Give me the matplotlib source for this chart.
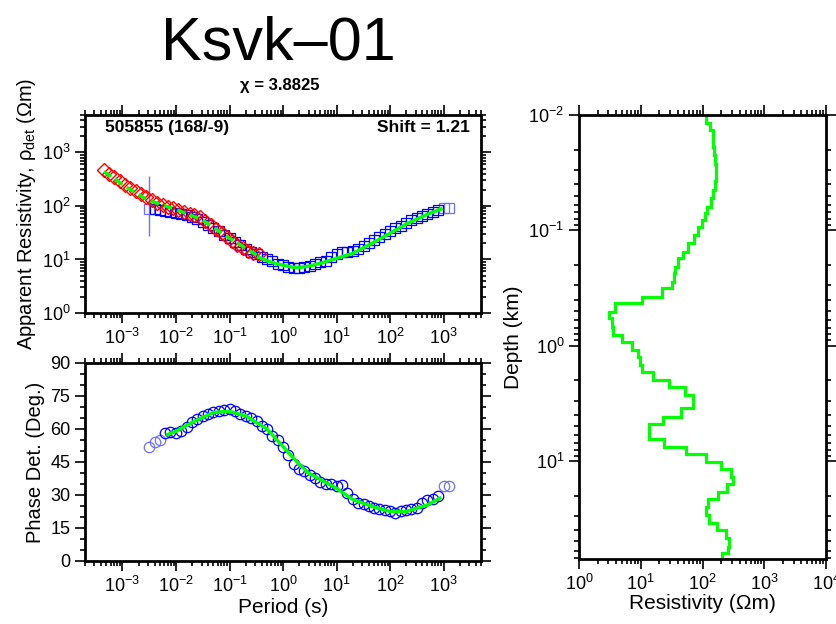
import numpy as np
import matplotlib.pyplot as plt
from matplotlib.ticker import LogLocator, MultipleLocator, NullFormatter

plt.rcParams['font.family'] = ['Liberation Sans', 'DejaVu Sans']
plt.rcParams['mathtext.fontset'] = 'custom'
plt.rcParams['mathtext.rm'] = 'Liberation Sans'
plt.rcParams['mathtext.it'] = 'Liberation Sans:italic'
plt.rcParams['mathtext.bf'] = 'Liberation Sans:bold'

# red diamonds (first polarisation), apparent resistivity
red_period = [4.5e-4, 5.6e-4, 7.1e-4, 8.9e-4, 1.1e-3, 1.4e-3, 1.8e-3, 2.2e-3, 2.8e-3, 3.5e-3,
              4.5e-3, 5.6e-3, 7.1e-3, 8.9e-3, 0.011, 0.014, 0.018, 0.022, 0.028, 0.035,
              0.045, 0.056, 0.071, 0.089, 0.11, 0.14, 0.18, 0.22, 0.28, 0.35]
red_rho = [470, 400, 340, 290, 250, 215, 190, 165, 145, 128,
           115, 105, 97, 90, 84, 78, 72, 69, 62, 52,
           44, 37, 31, 26, 22, 19, 16.5, 14.5, 13, 12.5]

# blue squares / circles (determinant), period in s
det_period = [3.2e-3, 4.0e-3, 5.0e-3, 6.3e-3, 7.9e-3, 0.010, 0.0126, 0.0158, 0.020, 0.025,
              0.032, 0.040, 0.050, 0.063, 0.079, 0.10, 0.126, 0.158, 0.20, 0.25,
              0.32, 0.40, 0.50, 0.63, 0.79, 1.0, 1.26, 1.58, 2.0, 2.5,
              3.2, 4.0, 5.0, 6.3, 7.9, 10, 12.6, 15.8, 20, 25,
              32, 40, 50, 63, 79, 100, 126, 158, 200, 250,
              316, 400, 500, 630, 790, 1000, 1260]
det_rho = [88, 86, 84, 82, 78, 75, 72, 68, 63, 57,
           51, 45, 39, 34, 29, 25, 21, 18.5, 16, 14,
           12.5, 11, 10, 9.2, 8.4, 7.8, 7.3, 7.0, 7.0, 7.2,
           7.6, 8.2, 8.8, 9.5, 11, 12.5, 13.5, 14, 14.5, 15.5,
           17.5, 20, 23, 26, 30, 34, 38, 43, 48, 54,
           60, 66, 72, 78, 84, 90, 90]
det_phase = [52, 54, 55, 58, 58.5, 58, 59, 61, 63, 64.5,
             66, 67, 67.5, 68, 68.5, 69, 68, 67, 66, 65,
             63.5, 61.5, 60, 57, 55, 52, 48, 44, 42, 41,
             39, 37.5, 36, 35, 35, 34, 34.5, 31, 28, 26.5,
             26, 25, 24, 23.5, 23, 22.5, 22, 22.5, 23, 23.5,
             24, 26.5, 27.5, 28, 29.5, 34, 34]
rho_used = [0] + [1] * 54 + [0, 0]
phase_used = [0, 0, 0] + [1] * 52 + [0, 0]

# model responses
fit_red_period = [4.5e-4, 1e-3, 3e-3, 0.01, 0.03, 0.1, 0.35]
fit_red_rho = [440, 250, 128, 86, 56, 25, 11.5]
fit_period = [0.35, 0.5, 0.7, 1.0, 1.5, 2.0, 3.0, 5.0, 10, 20, 50, 100, 200, 500, 900]
fit_rho = [11, 9.5, 8.5, 7.8, 7.2, 7.1, 7.5, 8.5, 10.5, 13, 21, 31, 46, 70, 88]
fit_ph_period = [7e-3, 0.01, 0.02, 0.05, 0.1, 0.2, 0.5, 1, 2, 3, 5, 10, 20, 50, 100, 200, 500, 850]
fit_phase = [57.5, 59, 63, 67.5, 68, 66, 60, 52, 44, 40, 37, 33, 28, 24.5, 22.5, 22.5, 25.5, 28.5]

# 1D resistivity model
depth_edges = [0.01, 0.0118, 0.0135, 0.0159, 0.0188, 0.0222, 0.0264, 0.0312, 0.0373, 0.0447,
               0.0527, 0.0624, 0.0713, 0.0814, 0.0931, 0.110, 0.130, 0.153, 0.175, 0.207,
               0.236, 0.279, 0.319, 0.377, 0.430, 0.508, 0.580, 0.685, 0.809, 0.936,
               1.09, 1.25, 1.47, 1.68, 1.99, 2.27, 2.68, 3.07, 3.50, 4.14,
               4.79, 5.58, 6.50, 7.53, 8.71, 10.2, 11.8, 13.9, 15.9, 18.5,
               21.5, 24.9, 29.4, 34.4, 39.7, 46.9, 55.5, 63.3, 71.0]
layer_res = [115, 132, 145, 148, 155, 162, 166, 166, 162, 148,
             135, 120, 110, 98, 85, 72, 59, 48, 40, 36,
             34, 32, 22, 10.4, 3.8, 3.1, 3.4, 3.6, 5.0, 7.2,
             9.1, 9.8, 10.4, 15.5, 29, 52, 71, 69, 45, 23,
             13.5, 13.5, 24, 54, 112, 200, 290, 310, 245, 178,
             123, 115, 127, 174, 240, 270, 257, 209]

blue = '#0000ff'
light = '#7070ff'
red = '#ff0000'
green = '#00ff00'


def style(ax):
    for s in ax.spines.values():
        s.set_linewidth(2)
    ax.tick_params(which='both', direction='out', top=True, right=True, width=1.2, labelsize=13, pad=3)
    ax.tick_params(which='major', length=7.5)
    ax.tick_params(which='minor', length=3.5)


def log_ticks(axis):
    axis.set_major_locator(LogLocator(base=10, numticks=20))
    axis.set_minor_locator(LogLocator(base=10, subs=range(2, 10), numticks=20))
    axis.set_minor_formatter(NullFormatter())


fig = plt.figure(figsize=(8.37, 6.24), dpi=100)
ax1 = fig.add_axes([0.1016, 0.4984, 0.4731, 0.3173])
ax2 = fig.add_axes([0.1016, 0.1010, 0.4731, 0.3173])
ax3 = fig.add_axes([0.6918, 0.1042, 0.2951, 0.7115])

T = np.array(det_period)
R = np.array(det_rho)
P = np.array(det_phase)
ru = np.array(rho_used) == 1
pu = np.array(phase_used) == 1

# apparent resistivity
ax1.errorbar(T[0], R[0], yerr=[[R[0] - 27], [370 - R[0]]], color=light, lw=1, capsize=0, zorder=2)
ax1.plot(T[~ru], R[~ru], 's', ms=7, mfc='none', mec=light, mew=0.9, zorder=2)
ax1.plot(T[ru], R[ru], 's', ms=7, mfc='none', mec=blue, mew=0.9, zorder=3)
ax1.plot(red_period, red_rho, 'D', ms=7, mfc='none', mec=red, mew=1.0, zorder=4)
ax1.plot(fit_red_period, fit_red_rho, color=green, lw=2.5, dashes=(2.5, 1.5), zorder=5)
ax1.plot(fit_period, fit_rho, color=green, lw=2.5, zorder=5)
ax1.set_xscale('log')
ax1.set_yscale('log')
ax1.set_xlim(2e-4, 5e3)
ax1.set_ylim(1, 5e3)
log_ticks(ax1.xaxis)
log_ticks(ax1.yaxis)
style(ax1)
ax1.set_ylabel('Apparent Resistivity, ρ$_{\\mathrm{det}}$ (Ωm)', fontsize=14.5, labelpad=3)
ax1.text(0.05, 0.914, '505855 (168/-9)', transform=ax1.transAxes, fontsize=12.5,
         fontweight='bold', ha='left', va='baseline')
ax1.text(0.972, 0.914, 'Shift = 1.21', transform=ax1.transAxes, fontsize=12.5,
         fontweight='bold', ha='right', va='baseline')

# phase
ax2.plot(T[~pu], P[~pu], 'o', ms=7.5, mfc='none', mec=light, mew=0.9, zorder=2)
ax2.plot(T[pu], P[pu], 'o', ms=7.5, mfc='none', mec=blue, mew=0.9, zorder=3)
ax2.plot(fit_ph_period, fit_phase, color=green, lw=2.5, zorder=5)
ax2.set_xscale('log')
ax2.set_xlim(2e-4, 5e3)
ax2.set_ylim(0, 90)
log_ticks(ax2.xaxis)
ax2.yaxis.set_major_locator(MultipleLocator(15))
ax2.yaxis.set_minor_locator(MultipleLocator(5))
style(ax2)
ax2.set_ylabel('Phase Det. (Deg.)', fontsize=14.5)
ax2.set_xlabel('Period (s)', fontsize=15, labelpad=2)

# 1D model
ax3.stairs(layer_res, depth_edges, orientation='horizontal', baseline=None, color=green, lw=2.3)
ax3.set_xscale('log')
ax3.set_yscale('log')
ax3.set_xlim(1, 1e4)
ax3.set_ylim(71, 0.01)
log_ticks(ax3.xaxis)
log_ticks(ax3.yaxis)
style(ax3)
ax3.set_xlabel('Resistivity (Ωm)', fontsize=15, labelpad=0)
ax3.set_ylabel('Depth (km)', fontsize=15)

fig.text(0.333, 0.9054, 'Ksvk–01', fontsize=44, ha='center', va='baseline')
fig.text(0.3345, 0.8558, 'χ = 3.8825', fontsize=12, fontweight='bold', ha='center', va='baseline')

fig.savefig('out.png', dpi=100)
